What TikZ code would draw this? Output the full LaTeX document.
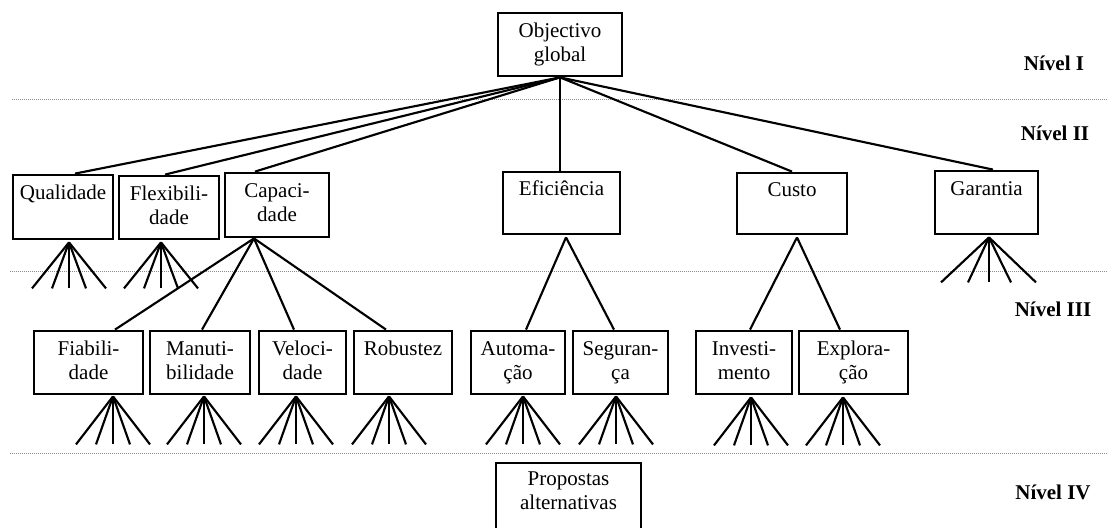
\documentclass[tikz,border=0pt]{standalone}
\usepackage{fontspec}
\setmainfont{Liberation Serif}
\usetikzlibrary{calc}
\newcommand\boxfont{\fontsize{15.75}{18}\selectfont}
\begin{document}
\begin{tikzpicture}[x=0.75pt,y=-0.75pt,
  box/.style={draw, line width=2.1pt, inner sep=0pt, align=center, font=\boxfont},
  conn/.style={line width=1.6pt},
  sep/.style={draw=gray!90, line width=0.7pt, dash pattern=on 0.75pt off 0.75pt},
  lvl/.style={font=\boxfont\bfseries, inner sep=0pt}]
\useasboundingbox (0,0) rectangle (1107,528);

% separators
\draw[sep] (12,99) -- (1107,99);
\draw[sep] (10,271) -- (1107,271);
\draw[sep] (10,453) -- (1107,453);

% level labels
\node[lvl] (n1) at (1054,63) {Nível I};
\node[lvl] (n2) at (1055,133) {Nível II};
\node[lvl] (n3) at (1053,309) {Nível III};
\node[lvl] (n4) at (1053,492) {Nível IV};

% level I
\node[box, minimum width=93pt, minimum height=47.25pt] (obj) at (560,44.5) {\strut Objectivo\\\strut global};

% level II
\node[box, minimum width=75pt, minimum height=48pt] (qual) at (63,207) {\strut Qualidade\\\strut};
\node[box, minimum width=75pt, minimum height=47.25pt] (flex) at (169,207.5) {\strut Flexibili-\\\strut dade};
\node[box, minimum width=78pt, minimum height=48pt] (cap) at (277,205) {\strut Capaci-\\\strut dade};
\node[box, minimum width=87.75pt, minimum height=46.5pt] (efic) at (561.5,203) {\strut Eficiência\\\strut};
\node[box, minimum width=82.5pt, minimum height=45.75pt] (custo) at (792,203.5) {\strut Custo\\\strut};
\node[box, minimum width=77.25pt, minimum height=47.25pt] (gar) at (986.5,202.5) {\strut Garantia\\\strut};

% level III
\node[box, minimum width=81.75pt, minimum height=47.25pt] (fiab) at (88.5,362.5) {\strut Fiabili-\\\strut dade};
\node[box, minimum width=75pt, minimum height=47.25pt] (manut) at (200,362.5) {\strut Manuti-\\\strut bilidade};
\node[box, minimum width=65.25pt, minimum height=47.25pt] (veloc) at (302.5,362.5) {\strut Veloci-\\\strut dade};
\node[box, minimum width=73.5pt, minimum height=47.25pt] (robust) at (403,362.5) {\strut Robustez\\\strut};
\node[box, minimum width=70.5pt, minimum height=47.25pt] (autom) at (518,362.5) {\strut Automa-\\\strut ção};
\node[box, minimum width=71.25pt, minimum height=47.25pt] (segur) at (620.5,362.5) {\strut Seguran-\\\strut ça};
\node[box, minimum width=72pt, minimum height=47.25pt] (invest) at (744,362.5) {\strut Investi-\\\strut mento};
\node[box, minimum width=81.75pt, minimum height=47.25pt] (explor) at (853.5,362.5) {\strut Explora-\\\strut ção};

% level IV
\node[box, minimum width=108.75pt, minimum height=63pt] (prop) at (568.5,505) {\strut Propostas\\\strut alternativas\\\strut};

% level I -> II
\draw[conn] (obj.south) -- ($(qual.north)+(12,0)$);
\draw[conn] (obj.south) -- ($(flex.north)+(-4,0)$);
\draw[conn] (obj.south) -- ($(cap.north)+(-22,0)$);
\draw[conn] (obj.south) -- (obj.south |- efic.north);
\draw[conn] (obj.south) -- (custo.north);
\draw[conn] (obj.south) -- ($(gar.north)+(6.5,0)$);

% hubs
\coordinate (hqual) at ($(qual.south)+(6,2)$);
\coordinate (hflex) at ($(flex.south)+(-8,2)$);
\coordinate (hcap) at ($(cap.south)+(-23,0)$);
\coordinate (hefic) at ($(efic.south)+(4.5,2)$);
\coordinate (hcusto) at ($(custo.south)+(5,2)$);
\coordinate (hgar) at ($(gar.south)+(2.5,2)$);
\coordinate (hfiab) at ($(fiab.south)+(24.5,1)$);
\coordinate (hmanut) at ($(manut.south)+(4,1)$);
\coordinate (hveloc) at ($(veloc.south)+(-6.5,1)$);
\coordinate (hrobust) at ($(robust.south)+(-14,1)$);
\coordinate (hautom) at ($(autom.south)+(5,1)$);
\coordinate (hsegur) at ($(segur.south)+(-4.5,1)$);
\coordinate (hinvest) at ($(invest.south)+(7,2)$);
\coordinate (hexplor) at ($(explor.south)+(-10.5,2)$);

% level II -> III
\draw[conn] (hcap) -- ($(fiab.north)+(26.5,0)$);
\draw[conn] (hcap) -- ($(manut.north)+(2,0)$);
\draw[conn] (hcap) -- ($(veloc.north)+(-8.5,0)$);
\draw[conn] (hcap) -- ($(robust.north)+(-17,0)$);
\draw[conn] (hefic) -- ($(autom.north)+(8,0)$);
\draw[conn] (hefic) -- ($(segur.north)+(-6.5,0)$);
\draw[conn] (hcusto) -- ($(invest.north)+(6,0)$);
\draw[conn] (hcusto) -- ($(explor.north)+(-13.5,0)$);

% fans
\foreach \n in {hqual,hflex}
  \foreach \d in {-37,-17,0,17,37}
    \draw[conn] (\n) -- ++(\d,46);
\foreach \d in {-48,-21,0,22,47}
  \draw[conn] (hgar) -- ++(\d,45);
\foreach \n in {hfiab,hmanut,hveloc,hrobust,hautom,hsegur,hinvest,hexplor}
  \foreach \d in {-37,-17,0,17,37}
    \draw[conn] (\n) -- ++(\d,48);
\end{tikzpicture}
\end{document}
